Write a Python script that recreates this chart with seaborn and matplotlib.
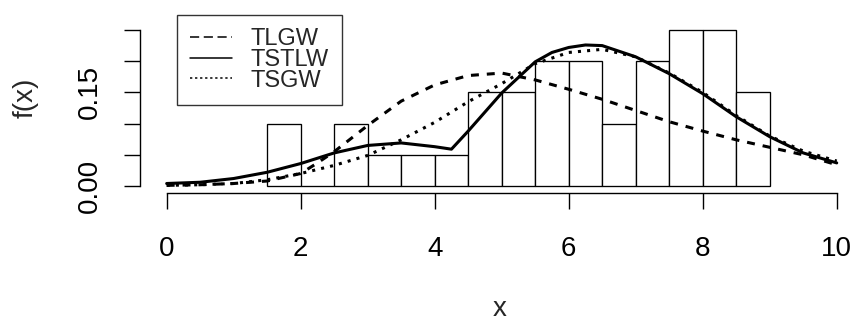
import numpy as np
import pandas as pd
import matplotlib
matplotlib.use("Agg")
import matplotlib.pyplot as plt
from matplotlib.lines import Line2D
import seaborn as sns

# Histogram (density, bin width 0.5, n = 40)
bin_edges = [1.5, 2.0, 2.5, 3.0, 3.5, 4.0, 4.5, 5.0, 5.5, 6.0, 6.5, 7.0, 7.5, 8.0, 8.5, 9.0]
bin_counts = [2, 0, 2, 1, 1, 1, 3, 3, 4, 4, 2, 4, 5, 5, 3]

# Fitted densities
x_tlgw = [0, 0.5, 1, 1.5, 2, 2.25, 2.5, 3, 3.5, 4, 4.5, 5, 5.5, 6, 6.5, 7, 7.5, 8, 8.5, 9, 9.5, 10]
y_tlgw = [0.001, 0.002, 0.004, 0.008, 0.020, 0.037, 0.055, 0.097, 0.136, 0.162, 0.177, 0.181,
          0.170, 0.155, 0.139, 0.121, 0.103, 0.088, 0.074, 0.062, 0.050, 0.034]

x_tstlw = [0, 0.5, 1, 1.5, 2, 2.5, 3, 3.5, 4, 4.25, 4.5, 5, 5.5, 5.75, 6, 6.25, 6.5, 7, 7.5, 8,
           8.5, 9, 9.5, 10]
y_tstlw = [0.004, 0.006, 0.012, 0.022, 0.036, 0.053, 0.065, 0.069, 0.063, 0.059, 0.088, 0.149,
           0.199, 0.214, 0.222, 0.226, 0.225, 0.207, 0.180, 0.148, 0.111, 0.079, 0.053, 0.037]

x_tsgw = [0, 0.5, 1, 1.5, 2, 2.5, 3, 3.5, 4, 4.5, 5, 5.5, 6, 6.5, 7, 7.5, 8, 8.5, 9, 9.5, 10]
y_tsgw = [0.001, 0.002, 0.004, 0.010, 0.020, 0.033, 0.049, 0.074, 0.102, 0.135, 0.164, 0.196,
          0.214, 0.219, 0.207, 0.181, 0.150, 0.113, 0.080, 0.056, 0.040]

y_ticks = [0.00, 0.05, 0.10, 0.15, 0.20, 0.25]
y_ticklabels = ["0.00", "", "", "0.15", "", ""]
x_ticks = [0, 2, 4, 6, 8, 10]

sns.set_style("white")
plt.rcParams['font.family'] = ['Liberation Sans', 'DejaVu Sans']

fig = plt.figure(figsize=(8.54, 3.25), dpi=100)
ax = fig.add_axes([0.1638, 0.4062, 0.8362, 0.5806])

centers = [(a + b) / 2 for a, b in zip(bin_edges[:-1], bin_edges[1:])]
hist_df = pd.DataFrame({"x": centers, "n": bin_counts})
sns.histplot(data=hist_df, x="x", weights="n", bins=bin_edges, stat="density",
             color="white", edgecolor="black", linewidth=0.95, alpha=1, ax=ax, zorder=1)

sns.lineplot(x=x_tlgw, y=y_tlgw, ax=ax, color="black", lw=2.2, linestyle=(0, (2.6, 2.6)),
             zorder=3, legend=False)
sns.lineplot(x=x_tstlw, y=y_tstlw, ax=ax, color="black", lw=2.2, linestyle="-",
             zorder=4, legend=False)
sns.lineplot(x=x_tsgw, y=y_tsgw, ax=ax, color="black", lw=2.2, linestyle=(0, (1, 2)),
             zorder=3, legend=False)

ax.set_xlim(-0.4, 10.258)
ax.set_ylim(-0.0112, 0.2912)

for s in ["top", "right"]:
    ax.spines[s].set_visible(False)
ax.spines["left"].set_bounds(0, 0.25)
ax.spines["bottom"].set_bounds(0, 10)
for s in ["left", "bottom"]:
    ax.spines[s].set_color("black")
    ax.spines[s].set_linewidth(1.0)

ax.set_xticks(x_ticks)
ax.set_xticklabels([str(t) for t in x_ticks])
ax.set_yticks(y_ticks)
ax.set_yticklabels(y_ticklabels)
ax.tick_params(axis="both", direction="out", length=11.5, width=1.0, color="black",
               labelsize=20, labelcolor="black")
ax.tick_params(axis="x", pad=19.5, bottom=True)
ax.tick_params(axis="y", pad=15, left=True)
for lab in ax.get_yticklabels():
    lab.set_rotation(90)
    lab.set_va("center")
    lab.set_ha("right")

ax.set_xlabel("x", fontsize=20)
ax.set_ylabel("f(x)", fontsize=20)
ax.xaxis.set_label_coords(0.504, -0.615)
ax.xaxis.label.set_va("center")
ax.yaxis.set_label_coords(-0.1595, 0.506)
ax.yaxis.label.set_va("center")

handles = [
    Line2D([], [], color="black", lw=1.1, linestyle=(0, (6, 3))),
    Line2D([], [], color="black", lw=1.1, linestyle="-"),
    Line2D([], [], color="black", lw=1.1, linestyle=(0, (1.5, 1.8))),
]
leg = ax.legend(handles, ["TLGW", "TSTLW", "TSGW"], loc="upper left",
                bbox_to_anchor=(177 / 854, 1 - 15 / 325), bbox_transform=fig.transFigure,
                borderaxespad=0, frameon=True, fancybox=False, edgecolor="black",
                fontsize=17, handlelength=1.78, handletextpad=0.8, labelspacing=-0.05,
                borderpad=0.55)
leg.get_frame().set_linewidth(1.0)
leg.set_zorder(5)

fig.savefig("out.png", dpi=100)
